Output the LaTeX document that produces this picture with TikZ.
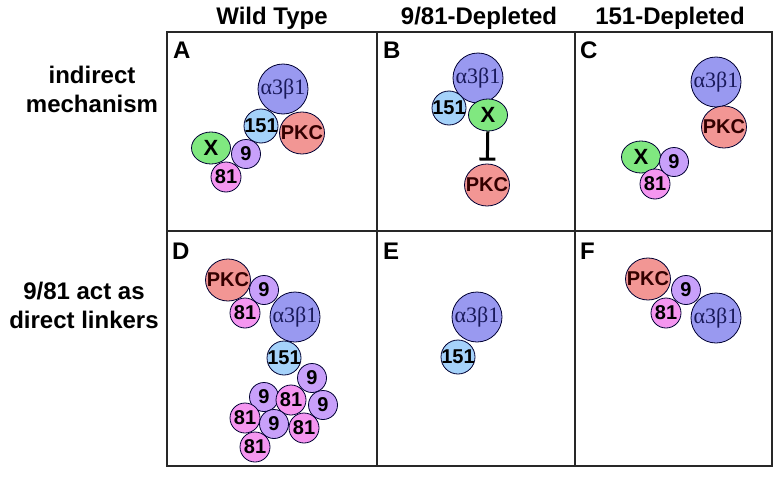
\documentclass[tikz,border=0pt]{standalone}
\usepackage{fontspec}
\setmainfont{Liberation Sans}
\newfontfamily\serifA{Liberation Serif}
\usetikzlibrary{shapes.geometric,arrows.meta}
\definecolor{intcol}{RGB}{153,153,240}
\definecolor{intext}{RGB}{25,25,90}
\definecolor{c151}{RGB}{165,210,250}
\definecolor{cpkc}{RGB}{242,150,148}
\definecolor{cx}{RGB}{128,232,128}
\definecolor{cnine}{RGB}{200,160,250}
\definecolor{ceightyone}{RGB}{245,150,240}
\definecolor{gridc}{RGB}{40,40,40}
\newcommand\zw[1]{\makebox[0pt]{#1}}
\begin{document}
\begin{tikzpicture}[x=1pt,y=-1pt,
  mol/.style={draw=black!80!blue, line width=0.8pt, inner sep=0pt, text=black,
    font=\fontsize{20}{22}\selectfont\bfseries},
  integ/.style={mol, circle, minimum size=50pt, fill=intcol, text=intext,
    font=\fontsize{22}{24}\selectfont\serifA},
  pro151/.style={mol, circle, minimum size=34pt, fill=c151},
  pkc/.style={mol, ellipse, minimum width=45pt, minimum height=42pt, fill=cpkc, text=black!80!red},
  xmol/.style={mol, ellipse, minimum width=39pt, minimum height=32pt, fill=cx,
    font=\fontsize{22}{24}\selectfont\bfseries},
  nine/.style={mol, circle, minimum size=29pt, fill=cnine},
  eighty/.style={mol, circle, minimum size=30pt, fill=ceightyone},
  lbl/.style={font=\fontsize{24}{29}\selectfont\bfseries, inner sep=0pt},
  panel/.style={font=\fontsize{24}{29}\selectfont\bfseries, inner sep=0pt, anchor=base west},
  gridline/.style={draw=gridc, line width=1.3pt}
]
\useasboundingbox (0,0) rectangle (782,479);
\fill[white] (0,0) rectangle (782,479);

% grid
\draw[gridline] (167,32) rectangle (772,466);
\draw[gridline] (167,231) -- (772,231);
\draw[gridline] (377,32) -- (377,466);
\draw[gridline] (575,32) -- (575,466);

% headers
\node[lbl, anchor=base] (h1) at (272,24) {Wild Type};
\node[lbl, anchor=base] (h2) at (479,24) {9/81-Depleted};
\node[lbl, anchor=base] (h3) at (670,24) {151-Depleted};

% row labels
\node[lbl, anchor=base, align=center] (r1) at (92,112) {indirect\\mechanism};
\node[lbl, anchor=base, align=center] (r2) at (84,328) {9/81 act as\\direct linkers};

% panel letters
\node[panel] (pA) at (173,58) {A};
\node[panel] (pB) at (383,58) {B};
\node[panel] (pC) at (580,58) {C};
\node[panel] (pD) at (172,259) {D};
\node[panel] (pE) at (383,259) {E};
\node[panel] (pF) at (580,259) {F};

% Panel A
\node[integ] (aI) at (283,89) {\zw{α3β1}};
\node[pkc] (aP) at (302,133) {\zw{PKC}};
\node[pro151] (a151) at (261,126) {\zw{151}};
\node[xmol] (aX) at (211,148) {\zw{X}};
\node[eighty] (a81) at (226,177) {\zw{81}};
\node[nine] (a9) at (246,154) {\zw{9}};

% Panel B
\node[integ] (bI) at (478,78) {\zw{α3β1}};
\node[pro151] (b151) at (449,108) {\zw{151}};
\node[xmol] (bX) at (488,115) {\zw{X}};
\node[pkc] (bP) at (487,185) {\zw{PKC}};
\draw[line width=3pt, -{Bar[width=16pt,length=3pt]}, shorten >=3pt] (bX) -- (bP);

% Panel C
\node[integ] (cI) at (716,82) {\zw{α3β1}};
\node[pkc] (cP) at (724,127) {\zw{PKC}};
\node[xmol] (cX) at (641,157) {\zw{X}};
\node[eighty] (c81) at (655,184) {\zw{81}};
\node[nine] (c9) at (674,162) {\zw{9}};

% Panel D
\node[pkc] (dP) at (228,280) {\zw{PKC}};
\node[nine] (d9a) at (264,290) {\zw{9}};
\node[eighty] (d81a) at (245,313) {\zw{81}};
\node[integ] (dI) at (295,317) {\zw{α3β1}};
\node[pro151] (d151) at (284,358) {\zw{151}};
\node[nine] (d9b) at (312,378) {\zw{9}};
\node[nine] (d9c) at (264,397) {\zw{9}};
\node[nine] (d9d) at (323,405) {\zw{9}};
\node[eighty] (d81b) at (291,400) {\zw{81}};
\node[eighty] (d81c) at (245,418) {\zw{81}};
\node[eighty] (d81e) at (255,447) {\zw{81}};
\node[nine] (d9e) at (274,424) {\zw{9}};
\node[eighty] (d81d) at (304,428) {\zw{81}};

% Panel E
\node[integ] (eI) at (477,317) {\zw{α3β1}};
\node[pro151] (e151) at (458,357) {\zw{151}};

% Panel F
\node[pkc] (fP) at (648,279) {\zw{PKC}};
\node[integ] (fI) at (716,318) {\zw{α3β1}};
\node[nine] (f9) at (686,290) {\zw{9}};
\node[eighty] (f81) at (666,313) {\zw{81}};
\end{tikzpicture}
\end{document}
